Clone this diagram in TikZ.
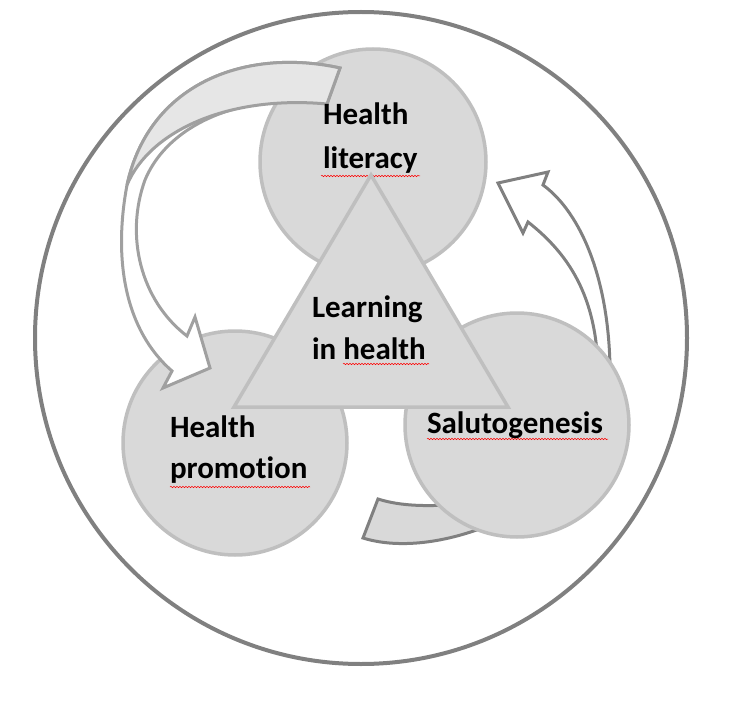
\documentclass[tikz,border=0pt]{standalone}
\usepackage{fontspec}
\setmainfont{Carlito}[Ligatures=NoCommon]
\usetikzlibrary{decorations.pathmorphing}
\definecolor{circfill}{RGB}{217,217,217}
\definecolor{circline}{RGB}{191,191,191}
\definecolor{darkline}{RGB}{128,128,128}
\definecolor{arrline}{RGB}{160,160,160}
\definecolor{backfill}{RGB}{230,230,230}
\begin{document}
\begin{tikzpicture}[x=1pt,y=-1pt,
  circ/.style={circle, draw=circline, line width=3.5pt, fill=circfill, minimum size=#1, inner sep=0pt, outer sep=0pt},
  lbl/.style={anchor=base west, inner sep=0pt, outer sep=0pt, font=\fontsize{31}{37}\selectfont\bfseries},
  squig/.style={draw=red, line width=0.5pt, decorate, decoration={snake, segment length=3pt, amplitude=0.7pt}},
  bigarrow/.style={draw=arrline, line width=3pt, line join=miter},
  darkarrow/.style={draw=darkline, line width=3pt, line join=miter}]
\useasboundingbox (0,0) rectangle (742,706);
% outer circle
\node[circle, draw=darkline, line width=4pt, minimum size=652pt, inner sep=0pt] (outer) at (361,338) {};
% bottom arrow tail (behind Salutogenesis)
\draw[darkarrow, fill=circfill] (378,499) .. controls (400,506) and (430,508) .. (480,502)
  -- (490,525) .. controls (440,545) and (395,548) .. (363,538) -- cycle;
% right arrow (behind Salutogenesis)
\draw[darkarrow, fill=white] (610,385) .. controls (612,280) and (580,212) .. (543,185)
  -- (548,172) -- (498,183) -- (523,233) -- (528,222)
  .. controls (570,255) and (600,300) .. (598,385) -- cycle;
% circles
\node[circ=226pt] (hl) at (373,162) {};
\node[circ=224pt] (hp) at (235,443) {};
\node[circ=224pt] (sa) at (517,425) {};
% big curved arrow (front face)
\draw[bigarrow, fill=white] (340,68) .. controls (250,48) and (150,80) .. (127,185)
  .. controls (113,260) and (125,330) .. (172,371)
  -- (163,388) -- (210,368) -- (195,317) -- (187,336)
  .. controls (140,300) and (125,235) .. (145,180)
  .. controls (170,120) and (250,92) .. (327,104) -- cycle;
% big curved arrow (back face)
\draw[bigarrow, fill=backfill] (340,68) .. controls (250,48) and (150,80) .. (127,185)
  .. controls (150,130) and (230,95) .. (327,104) -- cycle;
% texts of circles
\node[lbl] (hl1) at (323,125) {Health};
\node[lbl] (hl2) at (323,169) {literacy};
\draw[squig] (321,176) -- (420,176);
% triangle
\draw[draw=circline, line width=3.5pt, fill=circfill, line join=miter] (371,175) -- (508,407) -- (234,407) -- cycle;
\node[lbl] (lh1) at (312,317) {Learning};
\node[lbl] (lh2) at (312,359) {in health};
\draw[squig] (343,364) -- (429,364);
\node[lbl] (hp1) at (170,437) {Health};
\node[lbl] (hp2) at (170,478) {promotion};
\draw[squig] (170,487) -- (310,487);
\node[lbl] (sa1) at (427,433) {Salutogenesis};
\draw[squig] (427,439) -- (608,439);
\end{tikzpicture}
\end{document}
